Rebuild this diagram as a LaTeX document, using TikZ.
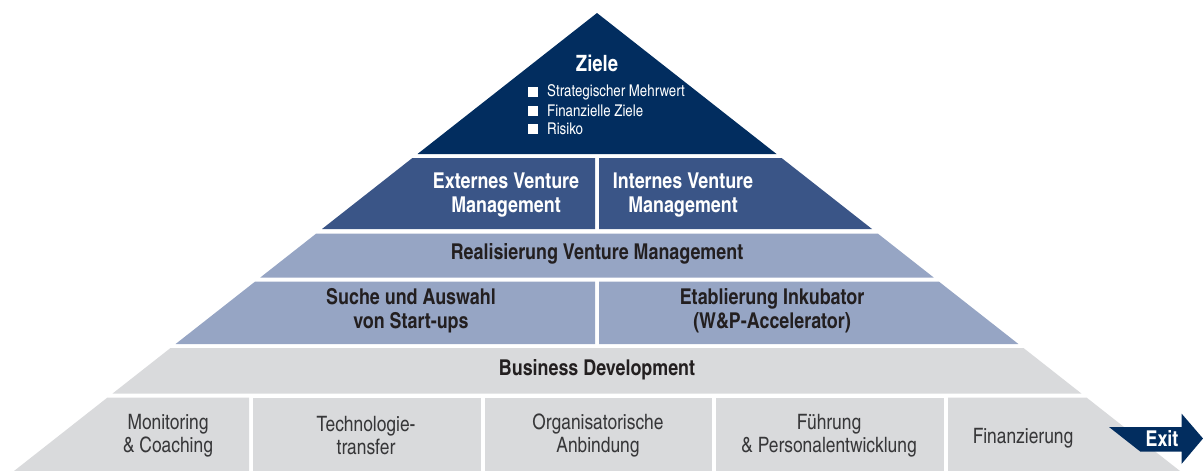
\documentclass[tikz,border=0pt]{standalone}
\usepackage{fontspec}
\setmainfont{texgyreheroscn-regular.otf}[BoldFont=texgyreheroscn-bold.otf]
\definecolor{navy}{RGB}{2,45,95}
\definecolor{midblue}{RGB}{58,85,135}
\definecolor{lightblue}{RGB}{150,165,196}
\definecolor{lightgrey}{RGB}{217,218,220}
\definecolor{darktext}{RGB}{35,31,32}
\definecolor{greytext}{RGB}{55,55,57}
\begin{document}
\begin{tikzpicture}[x=1pt,y=-1pt,
  headw/.style={font=\bfseries\fontsize{21.8}{24}\selectfont, text=white, align=center, inner sep=0pt},
  headd/.style={font=\bfseries\fontsize{21.8}{24}\selectfont, text=darktext, align=center, inner sep=0pt},
  celltext/.style={font=\fontsize{21.2}{23}\selectfont, text=greytext, align=center, inner sep=0pt},
  bullettext/.style={font=\fontsize{16.2}{18}\selectfont, text=white, anchor=west, inner sep=0pt},
  bulletsq/.style={fill=white, minimum size=10pt, inner sep=0pt}]
\useasboundingbox (0,0) rectangle (1203,471);
% row 1: Ziele
\fill[navy] (597,13) -- (776.5,154) -- (417.5,154) -- cycle;
% row 2
\fill[midblue] (412.4,158) -- (595,158) -- (595,229) -- (322,229) -- cycle;
\fill[midblue] (599,158) -- (781.6,158) -- (872,229) -- (599,229) -- cycle;
% row 3
\fill[lightblue] (316.3,233.5) -- (877.7,233.5) -- (933.7,277.5) -- (260.3,277.5) -- cycle;
% row 4
\fill[lightblue] (255.2,281.5) -- (595,281.5) -- (595,344) -- (175.6,344) -- cycle;
\fill[lightblue] (599,281.5) -- (938.8,281.5) -- (1018.4,344) -- (599,344) -- cycle;
% row 5
\fill[lightgrey] (170.5,348) -- (1023.5,348) -- (1081.4,393.5) -- (112.6,393.5) -- cycle;
% row 6
\fill[lightgrey] (107.5,397.5) -- (249,397.5) -- (249,471) -- (14,471) -- cycle;
\fill[lightgrey] (253,397.5) rectangle (481,471);
\fill[lightgrey] (485,397.5) rectangle (712,471);
\fill[lightgrey] (716,397.5) rectangle (944,471);
\fill[lightgrey] (948,397.5) -- (1086.5,397.5) -- (1180,471) -- (948,471) -- cycle;
% exit arrow
\fill[navy] (1109,427) -- (1181.5,427) -- (1181.5,413.5) -- (1203,438.5) -- (1181.5,464) -- (1181.5,451.5) -- (1140.2,451.5) -- cycle;
% texts
\node[headw, font=\bfseries\fontsize{22.5}{24}\selectfont] (ziele) at (597,63) {Ziele};
\node[bulletsq] (b1) at (533,92) {};
\node[bulletsq] (b2) at (533,110.5) {};
\node[bulletsq] (b3) at (533,129) {};
\node[bullettext] (t1) at (547,92) {Strategischer Mehrwert};
\node[bullettext] (t2) at (547,110.5) {Finanzielle Ziele};
\node[bullettext] (t3) at (547,129) {Risiko};
\node[headw] (ext) at (506,195) {Externes Venture\\Management};
\node[headw] (int) at (683,195) {Internes Venture\\Management};
\node[headd] (real) at (597,254) {Realisierung Venture Management};
\node[headd] (such) at (411,311) {Suche und Auswahl\\von Start-ups};
\node[headd] (etab) at (772,311) {Etablierung Inkubator\\(W\&P-Accelerator)};
\node[headd] (bus) at (597,370) {Business Development};
\node[celltext] (mon) at (168,435.5) {Monitoring\\\& Coaching};
\node[celltext] (tech) at (366,435.5) {Technologie-\\transfer};
\node[celltext] (org) at (598,435.5) {Organisatorische\\Anbindung};
\node[celltext] (fuehr) at (829,435.5) {Führung\\\& Personalentwicklung};
\node[celltext] (fin) at (1023,438) {Finanzierung};
\node[headw] (exit) at (1162,439) {Exit};
\end{tikzpicture}
\end{document}
